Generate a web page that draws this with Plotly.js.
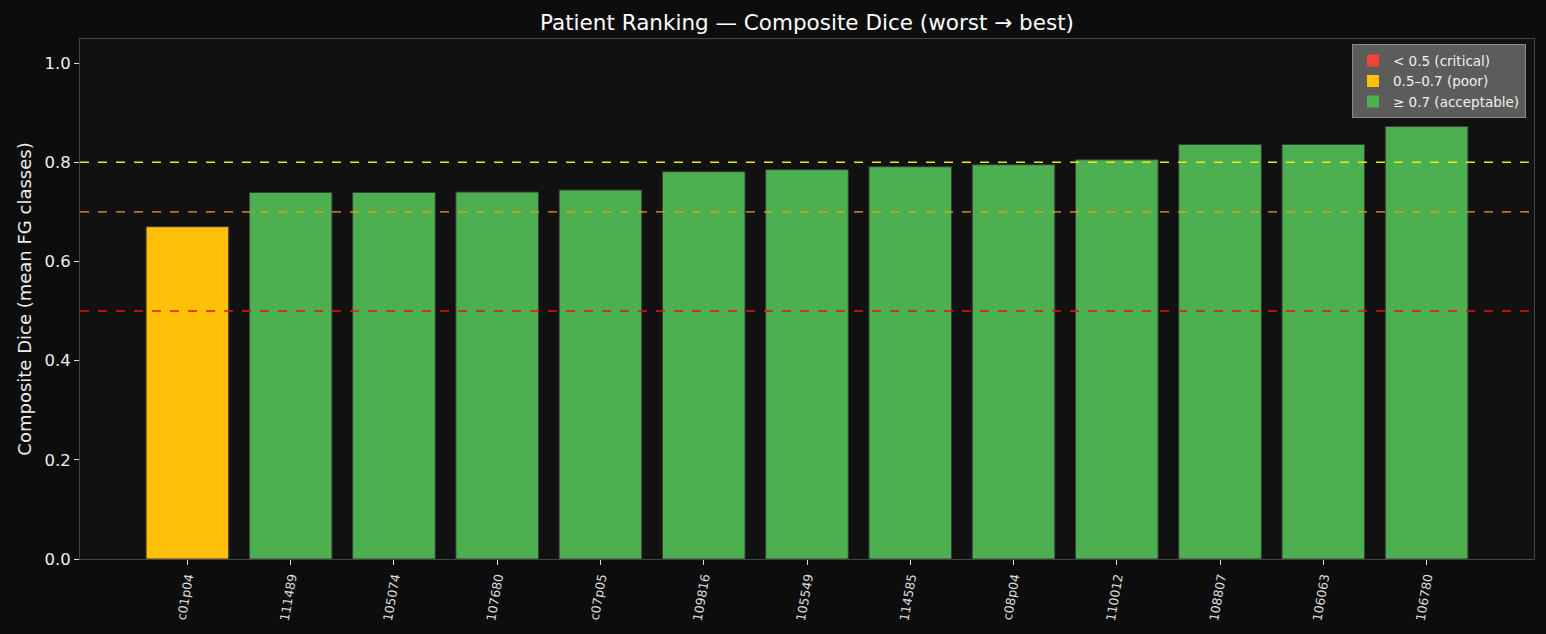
<!DOCTYPE html>
<html>
<head>
<meta charset="utf-8">
<script src="https://cdn.plot.ly/plotly-3.0.1.min.js"></script>
<style>
  html, body { margin: 0; padding: 0; background: #0d0d0d; }
  #chart { width: 1546px; height: 634px; }
</style>
</head>
<body>
<div id="chart"></div>
<script>
// patients ordered worst -> best
const patients = ["c01p04", "111489", "105074", "107680", "c07p05", "109816", "105549",
  "114585", "c08p04", "110012", "108807", "106063", "106780"];
const compositeDice = [0.670, 0.739, 0.739, 0.740, 0.744, 0.781, 0.785,
  0.791, 0.795, 0.805, 0.836, 0.836, 0.872];

// threshold lines
const thresholds = [0.5, 0.7, 0.8];
const thresholdColors = ["#f01010", "#f0a010", "#e8e812"];

// legend classes
const classNames = ["< 0.5 (critical)", "0.5\u20130.7 (poor)", "\u2265 0.7 (acceptable)"];
const classColors = ["#f44336", "#ffc107", "#4caf50"];

function colorFor(v) {
  if (v < 0.5) return classColors[0];
  if (v < 0.7) return classColors[1];
  return classColors[2];
}

const positions = patients.map((p, i) => i);

const data = [{
  type: "bar",
  x: positions,
  y: compositeDice,
  width: 0.8,
  marker: {
    color: compositeDice.map(colorFor),
    line: { color: "#3a3a3a", width: 1 }
  },
  showlegend: false,
  hoverinfo: "y"
}];

// legend-only entries
for (let i = 0; i < classNames.length; i++) {
  data.push({
    type: "bar",
    x: [null],
    y: [null],
    name: classNames[i],
    marker: { color: classColors[i] }
  });
}

const shapes = thresholds.map((t, i) => ({
  type: "line",
  xref: "paper",
  x0: 0,
  x1: 1,
  yref: "y",
  y0: t,
  y1: t,
  line: { color: thresholdColors[i], width: 1.4, dash: "dash" }
}));

const layout = {
  width: 1546,
  height: 634,
  paper_bgcolor: "#0d0d0d",
  plot_bgcolor: "#111111",
  font: { family: "DejaVu Sans, sans-serif", color: "#eeeeee" },
  margin: { l: 80, r: 12, t: 39, b: 75 },
  title: {
    text: "Patient Ranking \u2014 Composite Dice (worst \u2192 best)",
    font: { size: 21.5, color: "#ffffff" },
    x: 0.522,
    xanchor: "center",
    y: 0.965,
    yanchor: "middle"
  },
  barmode: "overlay",
  xaxis: {
    range: [-1.04, 13.04],
    tickvals: positions,
    ticktext: patients,
    tickangle: -80,
    tickfont: { size: 12.5, color: "#dddddd" },
    ticks: "outside",
    ticklen: 5,
    tickcolor: "#dddddd",
    showgrid: false,
    zeroline: false,
    showline: true,
    linecolor: "#444444",
    mirror: true
  },
  yaxis: {
    range: [0, 1.0485],
    tickvals: [0, 0.2, 0.4, 0.6, 0.8, 1.0],
    tickformat: ".1f",
    tickfont: { size: 16.5, color: "#eeeeee" },
    ticks: "outside",
    ticklen: 5,
    tickcolor: "#dddddd",
    showgrid: false,
    zeroline: false,
    showline: true,
    linecolor: "#444444",
    mirror: true,
    title: {
      text: "Composite Dice (mean FG classes)",
      font: { size: 18, color: "#eeeeee" },
      standoff: 8
    }
  },
  legend: {
    x: 0.9945,
    xanchor: "right",
    y: 0.99,
    yanchor: "top",
    bgcolor: "#5c5c5c",
    bordercolor: "#8a8a8a",
    borderwidth: 1,
    font: { size: 13.5, color: "#f0f0f0" },
    itemwidth: 30
  },
  shapes: shapes
};

Plotly.newPlot("chart", data, layout, { displayModeBar: false });
</script>
</body>
</html>
